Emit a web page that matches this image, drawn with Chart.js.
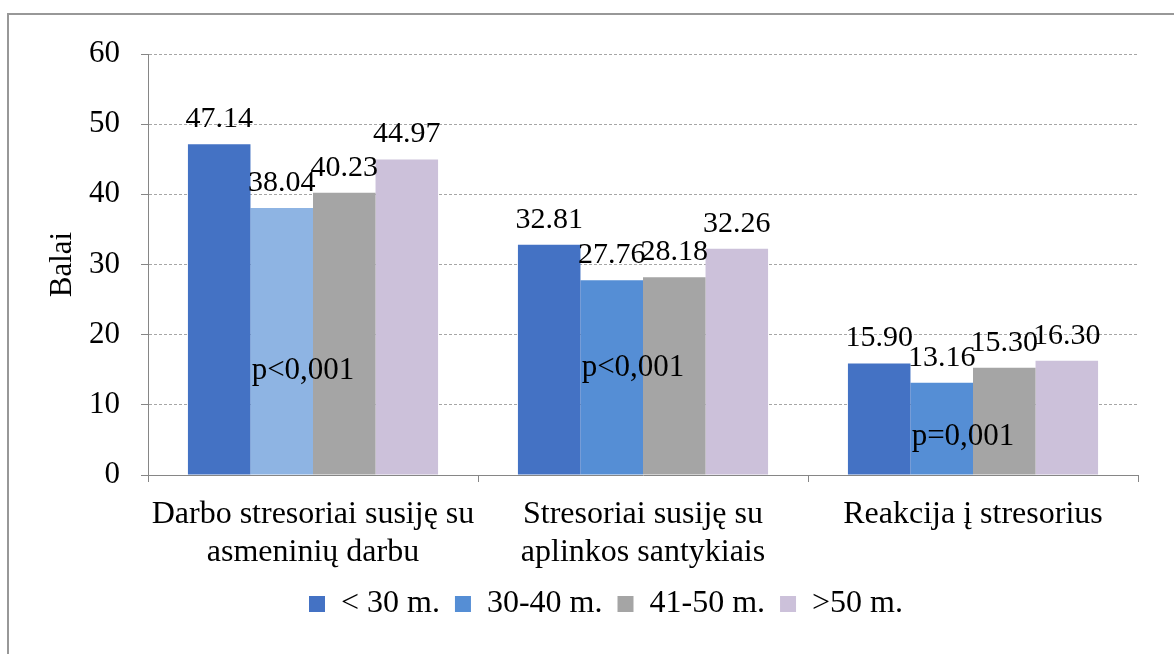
<!DOCTYPE html>
<html>
<head>
<meta charset="utf-8">
<script src="https://cdn.jsdelivr.net/npm/chart.js@4/dist/chart.umd.min.js"></script>
<style>
  html, body { margin: 0; padding: 0; background: #fff; }
  #wrap { width: 1174px; height: 654px; position: relative; }
</style>
</head>
<body>
<div id="wrap"><canvas id="chart"></canvas></div>
<script>
// duomenys
const categories = [
  ['Darbo stresoriai susiję su', 'asmeninių darbu'],
  ['Stresoriai susiję su', 'aplinkos santykiais'],
  ['Reakcija į stresorius']
];
const seriesNames = ['< 30 m.', '30-40 m.', '41-50 m.', '>50 m.'];
const under30 = [47.14, 32.81, 15.90];
const from30to40 = [38.04, 27.76, 13.16];
const from41to50 = [40.23, 28.18, 15.30];
const over50 = [44.97, 32.26, 16.30];
const yTicks = [0, 10, 20, 30, 40, 50, 60];

// p reikšmės (tekstas ir aukštis grafiko vienetais)
const pTexts = ['p<0,001', 'p<0,001', 'p=0,001'];
const pValuesY = [13.7, 14.1, 4.3];

const FONT = '"Liberation Serif", "Times New Roman", serif';

const blue = '#4472C4';
const lightBlue = '#558ED5';
const paleBlue = '#8EB4E3';
const grey = '#A5A5A5';
const lilac = '#CCC1DA';

// apvadas aplink visą diagramą
const frame = {
  id: 'frame',
  beforeDraw(chart) {
    const c = chart.ctx;
    c.save();
    c.fillStyle = '#fff';
    c.fillRect(0, 0, chart.width, chart.height);
    c.strokeStyle = '#989898';
    c.lineWidth = 2;
    c.strokeRect(8, 14, chart.width + 20, chart.height + 20);
    c.restore();
  }
};

// legenda Excel'yje šiek tiek paslinkta į dešinę
const legendShift = {
  id: 'legendShift',
  afterLayout(chart) {
    chart.legend.left += 32;
    chart.legend.right += 32;
  }
};

// reikšmių etiketės virš stulpelių + p reikšmės
const valueLabels = {
  id: 'valueLabels',
  afterDatasetsDraw(chart) {
    const c = chart.ctx;
    c.save();
    c.font = '30px ' + FONT;
    c.fillStyle = '#000';
    c.textAlign = 'center';
    c.textBaseline = 'alphabetic';
    chart.data.datasets.forEach((ds, di) => {
      const meta = chart.getDatasetMeta(di);
      meta.data.forEach((bar, i) => {
        c.fillText(ds.data[i].toFixed(2), bar.x, bar.y - 17);
      });
    });
    const xs = chart.scales.x, ys = chart.scales.y;
    c.font = '31px ' + FONT;
    pTexts.forEach((t, i) => {
      c.fillText(t, xs.getPixelForValue(i) - 10, ys.getPixelForValue(pValuesY[i]));
    });
    c.restore();
  }
};

const ctx = document.getElementById('chart').getContext('2d');
new Chart(ctx, {
  type: 'bar',
  data: {
    labels: categories,
    datasets: [
      { label: seriesNames[0], data: under30, backgroundColor: blue },
      { label: seriesNames[1], data: from30to40, backgroundColor: [paleBlue, lightBlue, lightBlue] },
      { label: seriesNames[2], data: from41to50, backgroundColor: grey },
      { label: seriesNames[3], data: over50, backgroundColor: lilac }
    ]
  },
  options: {
    responsive: true,
    maintainAspectRatio: false,
    animation: false,
    categoryPercentage: 0.758,
    barPercentage: 1,
    layout: { padding: { left: 10, right: 36, top: 54, bottom: 24 } },
    scales: {
      x: {
        grid: { offset: true, drawOnChartArea: false, drawTicks: true, tickLength: 7, color: '#868686' },
        border: { color: '#868686', width: 1 },
        ticks: { color: '#000', font: { family: FONT, size: 32, lineHeight: 1.2 }, padding: 13, maxRotation: 0, autoSkip: false },
        afterFit(s) { s.height = 98; }
      },
      y: {
        min: 0,
        max: 60,
        afterBuildTicks(s) { s.ticks = yTicks.map(v => ({ value: v })); },
        grid: { color: '#a6a6a6', tickLength: 7, tickColor: '#868686', tickBorderDash: [0, 0] },
        border: { color: '#868686', width: 1, dash: [3, 2] },
        ticks: { color: '#000', font: { family: FONT, size: 31 }, padding: 21 },
        title: { display: true, text: 'Balai', color: '#000', font: { family: FONT, size: 31 }, padding: { top: 34, bottom: 0 } },
        afterFit(s) { s.width = 138; }
      }
    },
    plugins: {
      legend: {
        position: 'bottom',
        labels: {
          color: '#000',
          font: { family: FONT, size: 32 },
          boxWidth: 16,
          boxHeight: 16,
          padding: 15,
          generateLabels(chart) {
            const cols = [blue, lightBlue, grey, lilac];
            return chart.data.datasets.map((ds, i) => ({
              text: ds.label, fillStyle: cols[i], strokeStyle: cols[i], lineWidth: 0, datasetIndex: i, hidden: false
            }));
          }
        }
      },
      tooltip: { enabled: false }
    }
  },
  plugins: [frame, legendShift, valueLabels]
});
</script>
</body>
</html>
